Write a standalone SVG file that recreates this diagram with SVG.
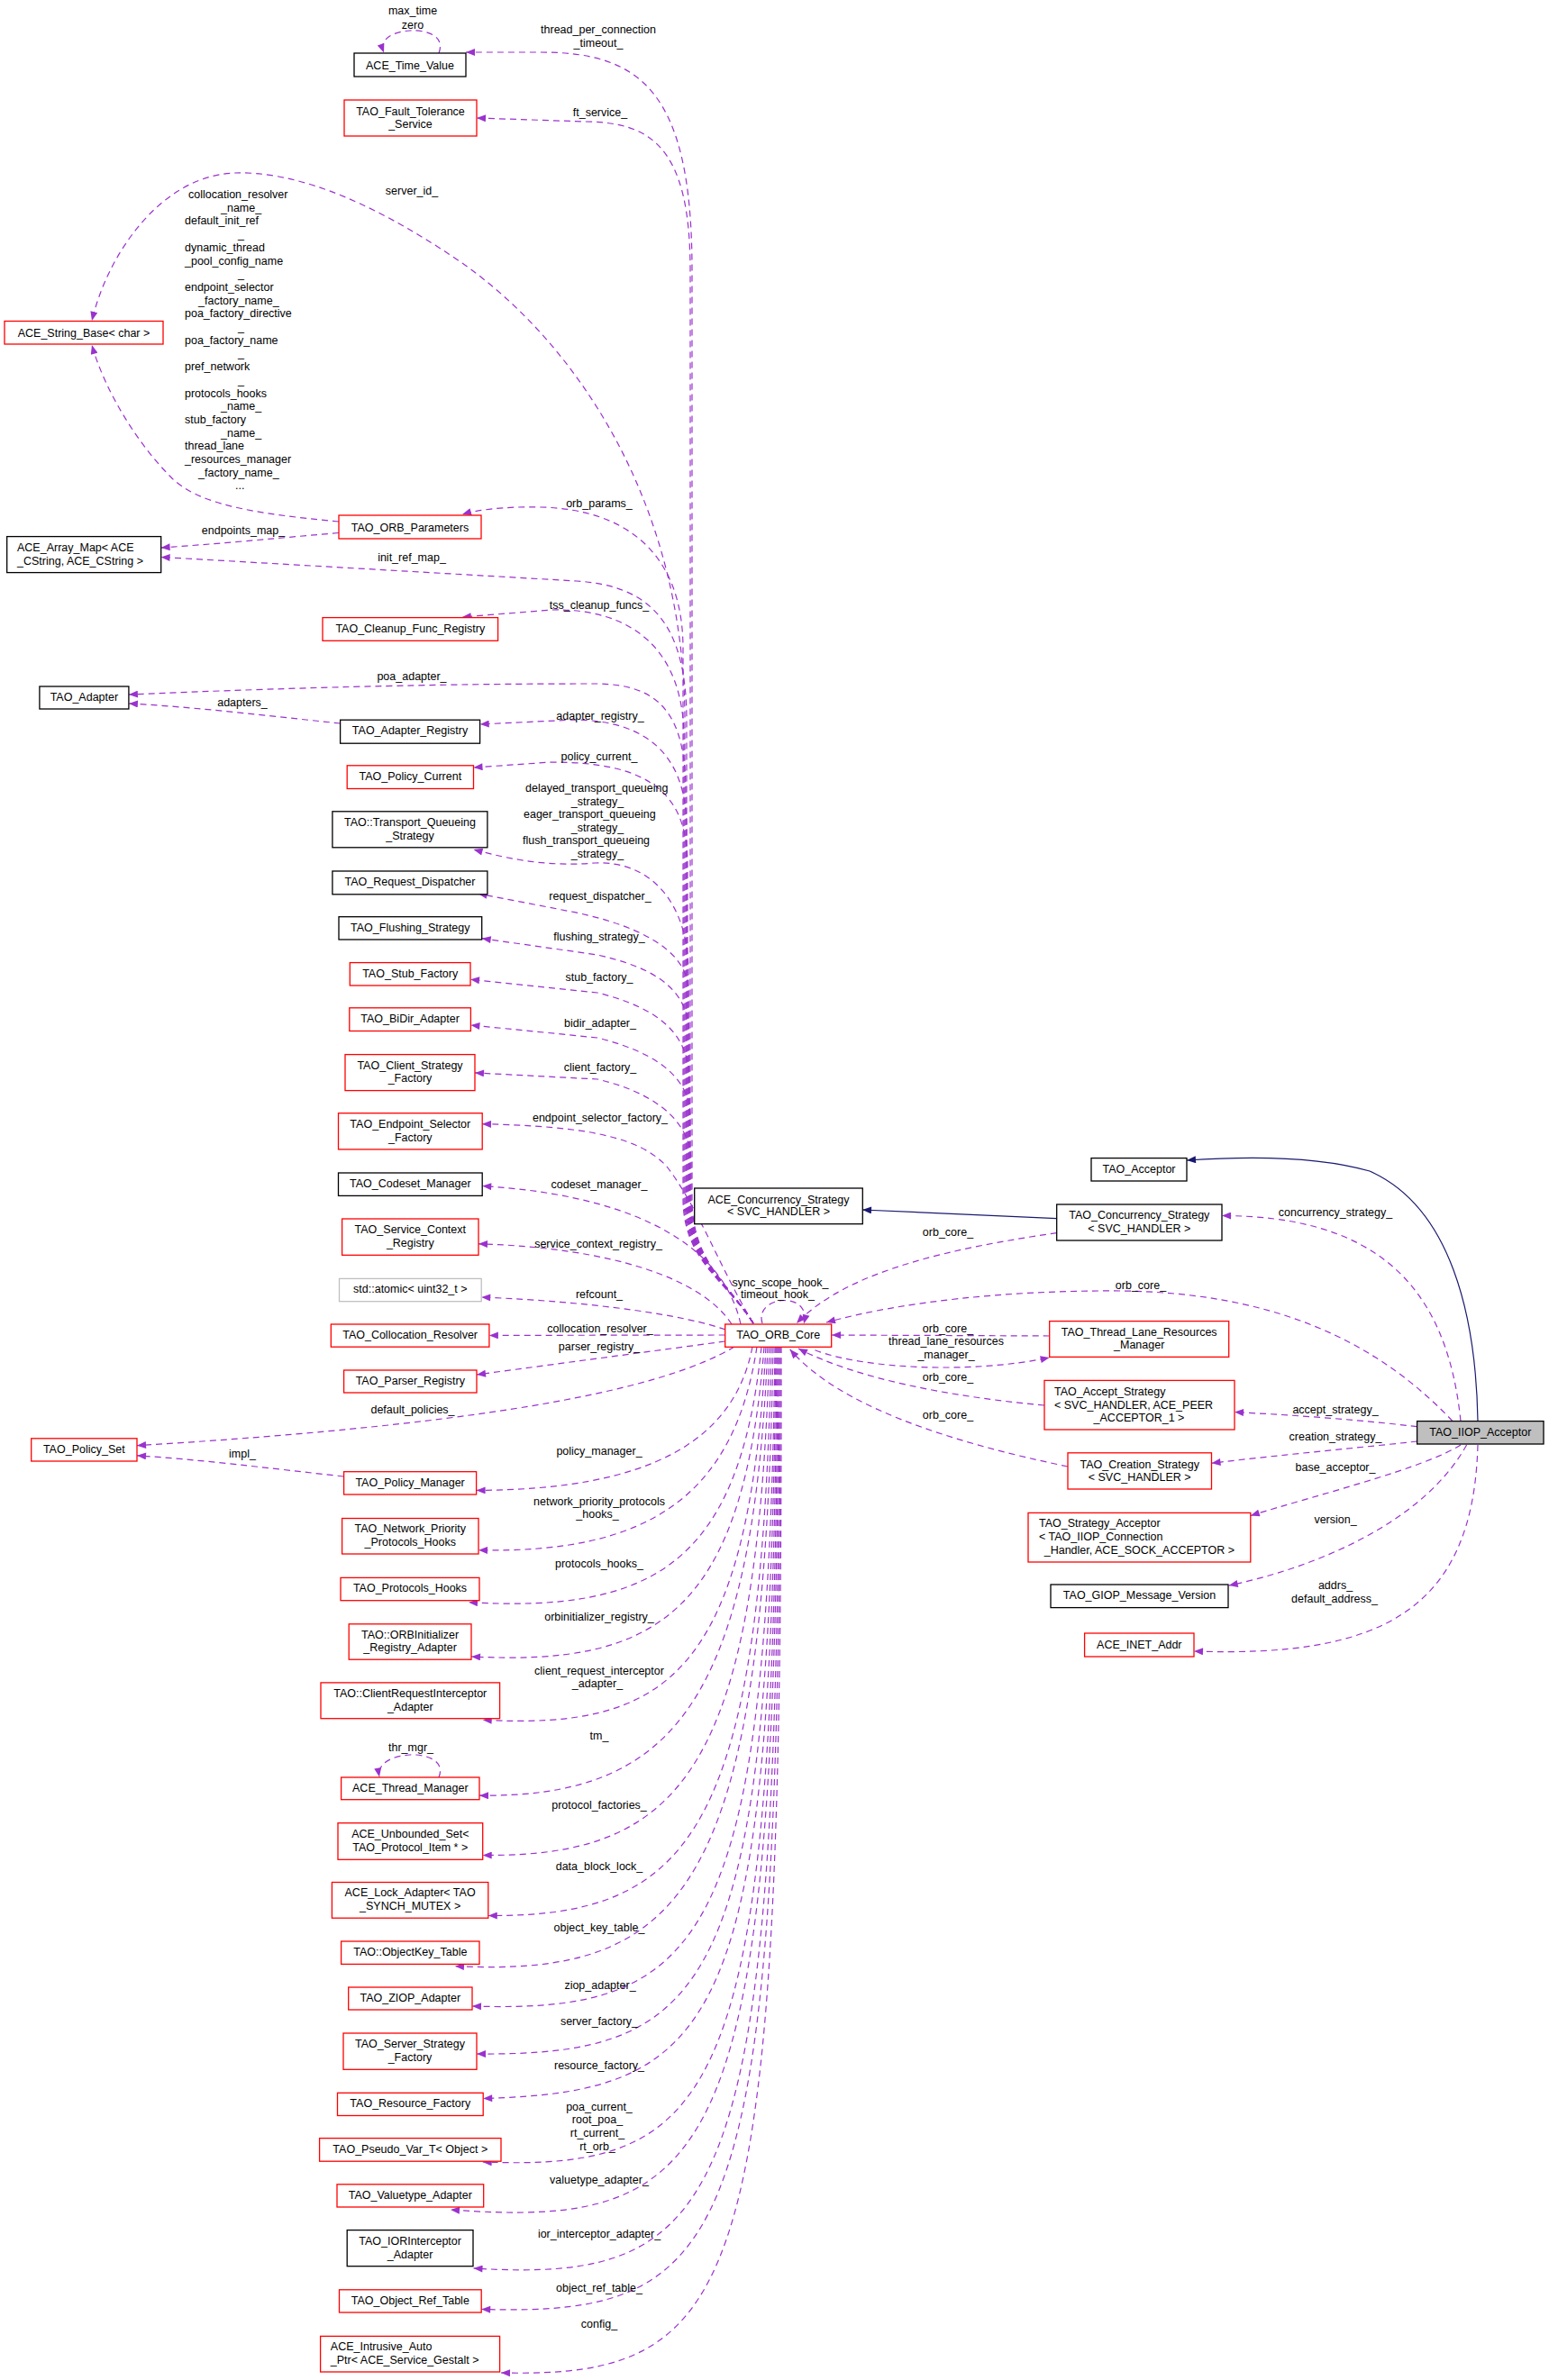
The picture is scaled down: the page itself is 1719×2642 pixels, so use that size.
<svg xmlns="http://www.w3.org/2000/svg" width="1719" height="2642" viewBox="0 0 1719 2642">
<style>
text{font-family:"Liberation Sans",Arial,Helvetica,sans-serif;font-size:12.5px;fill:#000}
.m{text-anchor:middle}
rect{fill:#fff;stroke-width:1.3}
.r{stroke:#ff0000}
.k{stroke:#000}
.g{stroke:#bfbfbf}
.f{fill:#bfbfbf;stroke:#000}
#edges path{fill:none;stroke:#9a32cd;stroke-width:1.2;stroke-dasharray:7,5;marker-end:url(#pa)}
#edges path.s{stroke:#191970;stroke-dasharray:none;marker-end:url(#na)}
</style>
<defs>
<marker id="pa" viewBox="0 0 10 8" refX="10" refY="4" markerWidth="11" markerHeight="8" markerUnits="userSpaceOnUse" orient="auto"><path d="M0,0 L10,4 L0,8 z" fill="#9a32cd"/></marker>
<marker id="na" viewBox="0 0 10 8" refX="10" refY="4" markerWidth="11" markerHeight="8" markerUnits="userSpaceOnUse" orient="auto"><path d="M0,0 L10,4 L0,8 z" fill="#191970"/></marker>
</defs>
<rect x="0" y="0" width="1719" height="2642" style="fill:#fff;stroke:none"/>
<g id="edges">
<path d="M836,1469 C805,1420 768,1400 768,1330 L768,300 C768,100 710,58 600,58 L517,58"/>
<path d="M836,1469 C805,1420 766,1400 766,1330 L766,300 C766,160 720,136 650,135 L529,131"/>
<path d="M836,1469 C805,1420 760,1400 760,1330 L760,800 C760,560 640,380 510,290 C400,215 320,190 260,192 C180,195 120,280 102,356"/>
<path d="M836,1469 C805,1420 758,1400 758,1330 L758,720 C758,610 690,565 600,563 C560,562 530,566 513,571"/>
<path d="M836,1469 C805,1420 762,1400 762,1330 L762,800 C762,690 720,650 640,645 L178.6,618.4"/>
<path d="M836,1469 C805,1420 759,1400 759,1330 L759,820 C759,720 700,675 612,677 L512.8,685"/>
<path d="M836,1469 C805,1420 761,1400 761,1330 L761,880 C761,790 730,760 663,759 C560,759 400,760 142.9,771"/>
<path d="M836,1469 C805,1420 762,1400 762,1330 L762,920 C762,840 720,800 637.8,799 L532.7,804"/>
<path d="M836,1469 C805,1420 763,1400 763,1330 L763,960 C763,880 720,846 612,846 L525.5,852"/>
<path d="M836,1469 C805,1420 764,1400 764,1330 L764,1080 C764,1000 720,955 660,958 C610,962 570,955 525.5,943"/>
<path d="M836,1469 C805,1420 764,1400 764,1330 L764,1100 C764,1060 720,1030 637.8,1012.7 L530.6,992"/>
<path d="M836,1469 C805,1420 765,1400 765,1330 L765,1150 C765,1100 730,1075 663,1060 L534.7,1041.7"/>
<path d="M836,1469 C805,1420 765,1400 765,1330 L765,1200 C765,1150 735,1120 663,1102 L522,1087.3"/>
<path d="M836,1469 C805,1420 766,1400 766,1330 L766,1240 C766,1200 735,1170 663,1152 L522.4,1137.9"/>
<path d="M836,1469 C805,1420 767,1400 767,1330 L767,1290 C767,1250 735,1215 663,1198 L527,1190.9"/>
<path d="M836,1469 C800,1410 775,1340 740,1295 C710,1262 650,1250 535,1247.7"/>
<path d="M822,1470 C800,1370 680,1325 535.2,1316.6"/>
<path d="M812,1470 C780,1420 680,1385 531,1380.8"/>
<path d="M805,1476 C760,1460 660,1445 534.2,1440"/>
<path d="M804.7,1482 L542.9,1482.4"/>
<path d="M804.7,1489 L529,1526"/>
<path d="M815,1495 C740,1540 560,1580 152,1604.7"/>
<path d="M381.6,1639 C300,1630 220,1620 152,1615.8"/>
<path d="M377.6,803 C300,795 220,785 142.9,781"/>
<path d="M376,591.5 C300,598 240,604 178.6,608"/>
<path d="M376,579 C280,570 220,560 190,530 C150,490 115,430 102,383"/>
<path d="M835,1495 C815,1600 720,1654 528.6,1654.4"/>
<path d="M840,1495 C815,1660 720,1725 531,1720.7"/>
<path d="M845,1495 C820,1740 720,1790 520,1778.7"/>
<path d="M848,1495 C825,1790 730,1850 523,1838.9"/>
<path d="M850,1495 C830,1860 740,1920 535.7,1909.3"/>
<path d="M852,1495 C835,1900 740,1995 532,1993.2"/>
<path d="M854,1495 C840,1960 760,2062 535.7,2059.4"/>
<path d="M856,1495 C845,2030 770,2128 541.8,2126.5"/>
<path d="M858,1495 C848,2100 760,2195 505,2182.6"/>
<path d="M860,1495 C852,2160 780,2235 524,2227"/>
<path d="M861,1495 C855,2210 790,2282 529,2280"/>
<path d="M862,1495 C858,2250 800,2322 536.2,2329.5"/>
<path d="M863,1495 C860,2330 800,2410 535.7,2400"/>
<path d="M864,1495 C862,2400 800,2475 500,2453"/>
<path d="M865,1495 C864,2450 810,2535 525.5,2518"/>
<path d="M866,1495 C866,2490 820,2572 534.2,2563.4"/>
<path d="M867,1495 C868,2540 830,2640 556,2634"/>
<path d="M846,1469 C836,1438 902,1432 892,1469.5"/>
<path d="M487,59 C495,38 470,33 455,34 C438,35 420,42 426,58.5"/>
<path d="M487,1973 C495,1953 470,1947 455,1948 C438,1949 418,1956 421,1972.5"/>
<path class="s" d="M1640,1577.6 C1638,1460 1610,1340 1520,1300 C1450,1280 1360,1285 1317,1288"/>
<path class="s" d="M1172.7,1352.6 L957,1343"/>
<path d="M1621,1577.6 C1605,1420 1520,1350 1356,1349.5"/>
<path d="M1612,1577.6 C1520,1480 1400,1435 1244,1433 C1120,1432 1000,1445 917,1468"/>
<path d="M1172.7,1368.6 C1060,1385 940,1410 884,1469"/>
<path d="M1164.7,1483 L923,1482"/>
<path d="M904.5,1498.8 C960,1520 1080,1525 1164.7,1507"/>
<path d="M1159,1560 C1050,1550 950,1530 886,1497"/>
<path d="M1185,1628 C1050,1600 930,1560 876.7,1498"/>
<path d="M1572.6,1583.7 C1500,1575 1420,1570 1370,1567.6"/>
<path d="M1572.6,1600 C1500,1608 1420,1615 1344.5,1624.3"/>
<path d="M1621,1604 C1580,1630 1460,1660 1387.8,1682.5"/>
<path d="M1627.6,1604 C1580,1690 1460,1740 1363.7,1760"/>
<path d="M1640,1604 C1635,1790 1530,1840 1325,1833"/>
</g>
<g id="edge-labels">
<text class="m" x="458" y="16">max_time</text>
<text class="m" x="458" y="31.5">zero</text>
<text class="m" x="664" y="37">thread_per_connection</text>
<text class="m" x="664" y="52">_timeout_</text>
<text class="m" x="666" y="129">ft_service_</text>
<text class="m" x="457" y="216">server_id_</text>
<text x="209" y="220">collocation_resolver</text>
<text x="245" y="234.7">_name_</text>
<text x="205" y="249.4">default_init_ref</text>
<text x="264" y="264.1">_</text>
<text x="205" y="278.8">dynamic_thread</text>
<text x="205" y="293.5">_pool_config_name</text>
<text x="264" y="308.2">_</text>
<text x="205" y="322.9">endpoint_selector</text>
<text x="220" y="337.6">_factory_name_</text>
<text x="205" y="352.3">poa_factory_directive</text>
<text x="264" y="367">_</text>
<text x="205" y="381.7">poa_factory_name</text>
<text x="264" y="396.4">_</text>
<text x="205" y="411.1">pref_network</text>
<text x="264" y="425.8">_</text>
<text x="205" y="440.5">protocols_hooks</text>
<text x="245" y="455.2">_name_</text>
<text x="205" y="469.9">stub_factory</text>
<text x="245" y="484.6">_name_</text>
<text x="205" y="499.3">thread_lane</text>
<text x="205" y="514">_resources_manager</text>
<text x="220" y="528.7">_factory_name_</text>
<text x="261" y="543.4">...</text>
<text class="m" x="665" y="563">orb_params_</text>
<text class="m" x="270" y="593">endpoints_map_</text>
<text class="m" x="457" y="623">init_ref_map_</text>
<text class="m" x="665" y="676">tss_cleanup_funcs_</text>
<text class="m" x="457" y="755">poa_adapter_</text>
<text class="m" x="269" y="784">adapters_</text>
<text class="m" x="666" y="799">adapter_registry_</text>
<text class="m" x="665" y="843.5">policy_current_</text>
<text x="583" y="879">delayed_transport_queueing</text>
<text class="m" x="663" y="893.5">_strategy_</text>
<text x="581" y="908">eager_transport_queueing</text>
<text class="m" x="663" y="923">_strategy_</text>
<text x="580" y="937">flush_transport_queueing</text>
<text class="m" x="663" y="952">_strategy_</text>
<text class="m" x="666" y="999">request_dispatcher_</text>
<text class="m" x="665" y="1044">flushing_strategy_</text>
<text class="m" x="665" y="1089">stub_factory_</text>
<text class="m" x="666" y="1140">bidir_adapter_</text>
<text class="m" x="666" y="1189">client_factory_</text>
<text class="m" x="666" y="1245">endpoint_selector_factory_</text>
<text class="m" x="665" y="1319">codeset_manager_</text>
<text class="m" x="664" y="1384.5">service_context_registry_</text>
<text class="m" x="665" y="1440.5">refcount_</text>
<text class="m" x="666" y="1479">collocation_resolver_</text>
<text class="m" x="665" y="1499">parser_registry_</text>
<text class="m" x="458" y="1569">default_policies_</text>
<text class="m" x="269" y="1617.5">impl_</text>
<text class="m" x="665" y="1615">policy_manager_</text>
<text class="m" x="665" y="1671">network_priority_protocols</text>
<text class="m" x="663" y="1685">_hooks_</text>
<text class="m" x="665" y="1740">protocols_hooks_</text>
<text class="m" x="665" y="1799">orbinitializer_registry_</text>
<text class="m" x="665" y="1859">client_request_interceptor</text>
<text class="m" x="663" y="1873">_adapter_</text>
<text class="m" x="665" y="1931">tm_</text>
<text class="m" x="456" y="1944">thr_mgr_</text>
<text class="m" x="665" y="2008">protocol_factories_</text>
<text class="m" x="665" y="2076">data_block_lock_</text>
<text class="m" x="665" y="2144">object_key_table_</text>
<text class="m" x="666" y="2208">ziop_adapter_</text>
<text class="m" x="665" y="2248">server_factory_</text>
<text class="m" x="665" y="2296.5">resource_factory_</text>
<text class="m" x="665" y="2343">poa_current_</text>
<text class="m" x="663" y="2357">root_poa_</text>
<text class="m" x="663" y="2372">rt_current_</text>
<text class="m" x="663" y="2387">rt_orb_</text>
<text class="m" x="665" y="2424">valuetype_adapter_</text>
<text class="m" x="665" y="2484">ior_interceptor_adapter_</text>
<text class="m" x="665" y="2544">object_ref_table_</text>
<text class="m" x="665" y="2584">config_</text>
<text class="m" x="1482" y="1349.5">concurrency_strategy_</text>
<text class="m" x="1052" y="1372">orb_core_</text>
<text class="m" x="866" y="1428">sync_scope_hook_</text>
<text class="m" x="863" y="1441">timeout_hook_</text>
<text class="m" x="1266" y="1431">orb_core_</text>
<text class="m" x="1052" y="1479">orb_core_</text>
<text class="m" x="1050" y="1493">thread_lane_resources</text>
<text class="m" x="1050" y="1508">_manager_</text>
<text class="m" x="1052" y="1533">orb_core_</text>
<text class="m" x="1052" y="1575">orb_core_</text>
<text class="m" x="1482" y="1569">accept_strategy_</text>
<text class="m" x="1482" y="1599">creation_strategy_</text>
<text class="m" x="1482" y="1633">base_acceptor_</text>
<text class="m" x="1482" y="1691">version_</text>
<text class="m" x="1482" y="1764">addrs_</text>
<text class="m" x="1481" y="1779">default_address_</text>
</g>
<g id="n-ACE_Time_Value"><rect class="k" x="393" y="59" width="124" height="26"/><text class="m" x="455" y="76.5">ACE_Time_Value</text></g>
<g id="n-TAO_Fault_Tolerance_Service"><rect class="r" x="382" y="111" width="147" height="40"/><text class="m" x="455.5" y="127.5">TAO_Fault_Tolerance</text><text class="m" x="455.5" y="141.5">_Service</text></g>
<g id="n-ACE_String_Base"><rect class="r" x="5" y="356.5" width="176" height="25.5"/><text class="m" x="93" y="373.5">ACE_String_Base&lt; char &gt;</text></g>
<g id="n-TAO_ORB_Parameters"><rect class="r" x="376" y="572" width="158" height="26"/><text class="m" x="455" y="589.5">TAO_ORB_Parameters</text></g>
<g id="n-ACE_Array_Map"><rect class="k" x="7.7" y="595.6" width="171" height="40"/><text x="19" y="612">ACE_Array_Map&lt; ACE</text><text x="19" y="627">_CString, ACE_CString &gt;</text></g>
<g id="n-TAO_Cleanup_Func_Registry"><rect class="r" x="358" y="685.6" width="194.6" height="25.7"/><text class="m" x="455.3" y="702.2">TAO_Cleanup_Func_Registry</text></g>
<g id="n-TAO_Adapter"><rect class="k" x="43.9" y="762" width="99" height="25"/><text class="m" x="93.4" y="778">TAO_Adapter</text></g>
<g id="n-TAO_Adapter_Registry"><rect class="k" x="377.6" y="799.2" width="155" height="26"/><text class="m" x="455" y="815.3">TAO_Adapter_Registry</text></g>
<g id="n-TAO_Policy_Current"><rect class="r" x="385.2" y="849.8" width="140.3" height="25.7"/><text class="m" x="455.3" y="866">TAO_Policy_Current</text></g>
<g id="n-TAO_Transport_Queueing_Strategy"><rect class="k" x="368.9" y="900.8" width="172" height="40"/><text class="m" x="455" y="917.3">TAO::Transport_Queueing</text><text class="m" x="455" y="932.2">_Strategy</text></g>
<g id="n-TAO_Request_Dispatcher"><rect class="k" x="368.9" y="967" width="172" height="25.8"/><text class="m" x="455" y="983.2">TAO_Request_Dispatcher</text></g>
<g id="n-TAO_Flushing_Strategy"><rect class="k" x="376" y="1017.7" width="158.7" height="25.3"/><text class="m" x="455.3" y="1034.2">TAO_Flushing_Strategy</text></g>
<g id="n-TAO_Stub_Factory"><rect class="r" x="388.3" y="1068.6" width="133.7" height="25.4"/><text class="m" x="455.2" y="1085.2">TAO_Stub_Factory</text></g>
<g id="n-TAO_BiDir_Adapter"><rect class="r" x="387.8" y="1118.8" width="134.6" height="25.7"/><text class="m" x="455.1" y="1135.3">TAO_BiDir_Adapter</text></g>
<g id="n-TAO_Client_Strategy_Factory"><rect class="r" x="383" y="1170.6" width="144" height="40"/><text class="m" x="455" y="1187.2">TAO_Client_Strategy</text><text class="m" x="455" y="1201.2">_Factory</text></g>
<g id="n-TAO_Endpoint_Selector_Factory"><rect class="r" x="375.5" y="1235.7" width="159.7" height="40.2"/><text class="m" x="455.3" y="1252.2">TAO_Endpoint_Selector</text><text class="m" x="455.3" y="1267.1">_Factory</text></g>
<g id="n-TAO_Codeset_Manager"><rect class="k" x="375.5" y="1302" width="159.7" height="25.4"/><text class="m" x="455.3" y="1318.2">TAO_Codeset_Manager</text></g>
<g id="n-TAO_Service_Context_Registry"><rect class="r" x="379.6" y="1353" width="151.4" height="40.3"/><text class="m" x="455.3" y="1369.2">TAO_Service_Context</text><text class="m" x="455.3" y="1384.1">_Registry</text></g>
<g id="n-std_atomic"><rect class="g" x="376.5" y="1419.4" width="157.7" height="25.3"/><text class="m" x="455.3" y="1435.1">std::atomic&lt; uint32_t &gt;</text></g>
<g id="n-TAO_Collocation_Resolver"><rect class="r" x="367.3" y="1470" width="175.6" height="25.2"/><text class="m" x="455.1" y="1486.1">TAO_Collocation_Resolver</text></g>
<g id="n-TAO_Parser_Registry"><rect class="r" x="381.6" y="1521" width="147.4" height="25"/><text class="m" x="455.3" y="1537">TAO_Parser_Registry</text></g>
<g id="n-TAO_Policy_Set"><rect class="r" x="34.7" y="1596.8" width="117.3" height="25.2"/><text class="m" x="93.3" y="1612.9">TAO_Policy_Set</text></g>
<g id="n-TAO_Policy_Manager"><rect class="r" x="381.6" y="1633.7" width="147" height="25.3"/><text class="m" x="455.1" y="1649.8">TAO_Policy_Manager</text></g>
<g id="n-TAO_Network_Priority_Protocols_Hooks"><rect class="r" x="379.6" y="1685.5" width="151.4" height="39.5"/><text class="m" x="455.3" y="1701.2">TAO_Network_Priority</text><text class="m" x="455.3" y="1716.1">_Protocols_Hooks</text></g>
<g id="n-TAO_Protocols_Hooks"><rect class="r" x="378" y="1751.4" width="154" height="25.3"/><text class="m" x="455" y="1767.1">TAO_Protocols_Hooks</text></g>
<g id="n-TAO_ORBInitializer_Registry_Adapter"><rect class="r" x="387.2" y="1802.8" width="135.8" height="39.4"/><text class="m" x="455.1" y="1818.9">TAO::ORBInitializer</text><text class="m" x="455.1" y="1833.4">_Registry_Adapter</text></g>
<g id="n-TAO_ClientRequestInterceptor_Adapter"><rect class="r" x="356" y="1867.9" width="198.6" height="39.8"/><text class="m" x="455.3" y="1884">TAO::ClientRequestInterceptor</text><text class="m" x="455.3" y="1898.9">_Adapter</text></g>
<g id="n-ACE_Thread_Manager"><rect class="r" x="378.6" y="1973" width="153.4" height="24.7"/><text class="m" x="455.3" y="1988.9">ACE_Thread_Manager</text></g>
<g id="n-ACE_Unbounded_Set"><rect class="r" x="375" y="2023.7" width="160.7" height="40.6"/><text class="m" x="455.3" y="2040.1">ACE_Unbounded_Set&lt;</text><text class="m" x="455.3" y="2055.1">TAO_Protocol_Item * &gt;</text></g>
<g id="n-ACE_Lock_Adapter"><rect class="r" x="368.4" y="2089.5" width="173.4" height="39.7"/><text class="m" x="455.1" y="2105">ACE_Lock_Adapter&lt; TAO</text><text class="m" x="455.1" y="2120">_SYNCH_MUTEX &gt;</text></g>
<g id="n-TAO_ObjectKey_Table"><rect class="r" x="378.6" y="2155" width="153.4" height="25.4"/><text class="m" x="455.3" y="2171.2">TAO::ObjectKey_Table</text></g>
<g id="n-TAO_ZIOP_Adapter"><rect class="r" x="386.7" y="2206" width="137.3" height="25"/><text class="m" x="455.3" y="2221.9">TAO_ZIOP_Adapter</text></g>
<g id="n-TAO_Server_Strategy_Factory"><rect class="r" x="381" y="2257" width="148" height="40.3"/><text class="m" x="455" y="2273.1">TAO_Server_Strategy</text><text class="m" x="455" y="2288.1">_Factory</text></g>
<g id="n-TAO_Resource_Factory"><rect class="r" x="374.5" y="2323.3" width="161.7" height="25.2"/><text class="m" x="455.3" y="2339.3">TAO_Resource_Factory</text></g>
<g id="n-TAO_Pseudo_Var_T"><rect class="r" x="354.6" y="2373.6" width="201.4" height="25.6"/><text class="m" x="455.3" y="2390.1">TAO_Pseudo_Var_T&lt; Object &gt;</text></g>
<g id="n-TAO_Valuetype_Adapter"><rect class="r" x="374" y="2424.8" width="162.7" height="25.2"/><text class="m" x="455.3" y="2441.3">TAO_Valuetype_Adapter</text></g>
<g id="n-TAO_IORInterceptor_Adapter"><rect class="k" x="385.2" y="2475.6" width="139.8" height="40.1"/><text class="m" x="455.1" y="2492">TAO_IORInterceptor</text><text class="m" x="455.1" y="2507">_Adapter</text></g>
<g id="n-TAO_Object_Ref_Table"><rect class="r" x="376.5" y="2541.8" width="157.7" height="25.2"/><text class="m" x="455.3" y="2558.2">TAO_Object_Ref_Table</text></g>
<g id="n-ACE_Intrusive_Auto_Ptr"><rect class="r" x="355.6" y="2593.4" width="199" height="39.6"/><text x="366.8" y="2609.4">ACE_Intrusive_Auto</text><text x="366.8" y="2624.4">_Ptr&lt; ACE_Service_Gestalt &gt;</text></g>
<g id="n-ACE_Concurrency_Strategy"><rect class="k" x="770.7" y="1319" width="186.6" height="39.7"/><text class="m" x="864" y="1335.5">ACE_Concurrency_Strategy</text><text class="m" x="864" y="1349">&lt; SVC_HANDLER &gt;</text></g>
<g id="n-TAO_ORB_Core"><rect class="r" x="804.7" y="1470" width="118" height="25.3"/><text class="m" x="863.7" y="1486.2">TAO_ORB_Core</text></g>
<g id="n-TAO_Acceptor"><rect class="k" x="1211" y="1285.6" width="106" height="25.4"/><text class="m" x="1264" y="1302.3">TAO_Acceptor</text></g>
<g id="n-TAO_Concurrency_Strategy"><rect class="k" x="1172.7" y="1337" width="183.3" height="40"/><text class="m" x="1264.3" y="1353.2">TAO_Concurrency_Strategy</text><text class="m" x="1264.3" y="1368.2">&lt; SVC_HANDLER &gt;</text></g>
<g id="n-TAO_Thread_Lane_Resources_Manager"><rect class="r" x="1164.7" y="1466.6" width="199" height="39.8"/><text class="m" x="1264.2" y="1483.4">TAO_Thread_Lane_Resources</text><text class="m" x="1264.2" y="1497.1">_Manager</text></g>
<g id="n-TAO_Accept_Strategy"><rect class="r" x="1159" y="1532.4" width="211" height="54.6"/><text x="1170" y="1549">TAO_Accept_Strategy</text><text x="1170" y="1563.5">&lt; SVC_HANDLER, ACE_PEER</text><text class="m" x="1264" y="1578">_ACCEPTOR_1 &gt;</text></g>
<g id="n-TAO_Creation_Strategy"><rect class="r" x="1185" y="1612.8" width="159.5" height="40.2"/><text class="m" x="1264.7" y="1629.5">TAO_Creation_Strategy</text><text class="m" x="1264.7" y="1644.1">&lt; SVC_HANDLER &gt;</text></g>
<g id="n-TAO_Strategy_Acceptor"><rect class="r" x="1141" y="1679.4" width="246.8" height="54.6"/><text x="1153" y="1695.4">TAO_Strategy_Acceptor</text><text x="1153" y="1709.9">&lt; TAO_IIOP_Connection</text><text class="m" x="1264.4" y="1725.2">_Handler, ACE_SOCK_ACCEPTOR &gt;</text></g>
<g id="n-TAO_GIOP_Message_Version"><rect class="k" x="1166" y="1759" width="197" height="25.6"/><text class="m" x="1264.5" y="1775">TAO_GIOP_Message_Version</text></g>
<g id="n-ACE_INET_Addr"><rect class="r" x="1203.6" y="1813" width="121.4" height="26"/><text class="m" x="1264.3" y="1829.5">ACE_INET_Addr</text></g>
<g id="n-TAO_IIOP_Acceptor"><rect class="f" x="1572.6" y="1577.6" width="140.4" height="25.4"/><text class="m" x="1642.8" y="1594">TAO_IIOP_Acceptor</text></g>
</svg>
